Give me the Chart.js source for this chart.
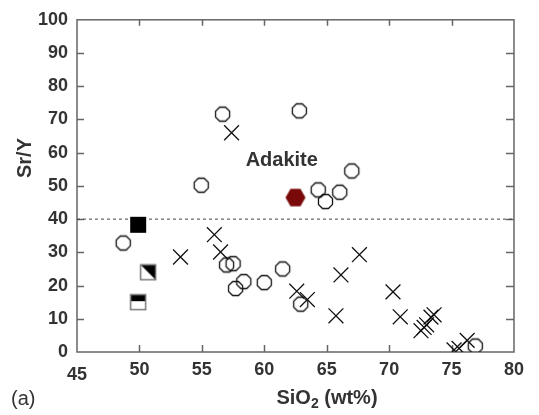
<!DOCTYPE html>
<html>
<head>
<meta charset="utf-8">
<script src="https://cdn.jsdelivr.net/npm/chart.js@4.4.1/dist/chart.umd.min.js"></script>
<style>
  html, body { margin: 0; padding: 0; background: #fff; }
  #wrap { width: 539px; height: 415px; }
</style>
</head>
<body>
<div id="wrap"><canvas id="srYChart" width="539" height="415"></canvas></div>
<script>
// open octagons
const circleSiO2 = [48.7, 54.95, 56.66, 56.98, 57.5, 57.7, 58.36, 60.0, 61.47, 62.81, 62.92, 64.32, 64.9, 66.04, 67.01, 76.9];
const circleSrY  = [32.8, 50.2, 71.6, 26.2, 26.6, 19.1, 21.2, 20.9, 25.0, 72.6, 14.4, 48.8, 45.3, 48.1, 54.5, 1.8];

// crosses
const crossSiO2 = [53.29, 56.0, 56.5, 57.38, 62.6, 63.45, 65.74, 66.14, 67.62, 70.31, 70.89, 72.55, 72.8, 73.0, 73.35, 73.6, 75.2, 75.6, 76.25];
const crossSrY  = [28.6, 35.3, 30.1, 66.0, 18.3, 15.8, 10.9, 23.2, 29.3, 18.1, 10.6, 6.4, 7.4, 8.2, 10.5, 11.2, 0.6, 1.1, 3.5];

// squares
const fullSquareSiO2 = [49.9];
const fullSquareSrY  = [38.3];
const diagSquareSiO2 = [50.7];
const diagSquareSrY  = [24.0];
const halfSquareSiO2 = [49.9];
const halfSquareSrY  = [15.0];

// red hexagon
const hexSiO2 = [62.5];
const hexSrY  = [46.5];

// adakite boundary (dotted)
const boundarySiO2 = [45, 80];
const boundarySrY  = [40, 40];

const xTicks = [45, 50, 55, 60, 65, 70, 75, 80];
const yTicks = [0, 10, 20, 30, 40, 50, 60, 70, 80, 90, 100];

const FONT = "'Liberation Sans', Arial, sans-serif";
const TEXT = "#333";
const AXIS = "#666";

function pts(xs, ys) {
    return xs.map((x, i) => ({ x: x, y: ys[i] }));
}

// marker canvases
function makeOctagon(r, lw) {
    const c = document.createElement("canvas");
    const s = Math.ceil(2 * r + lw + 2);
    c.width = s; c.height = s;
    const g = c.getContext("2d");
    g.strokeStyle = "#111";
    g.lineWidth = lw;
    g.beginPath();
    for (let k = 0; k < 8; k++) {
        const a = Math.PI / 8 + k * Math.PI / 4;
        const px = s / 2 + r * Math.cos(a), py = s / 2 + r * Math.sin(a);
        if (k === 0) g.moveTo(px, py); else g.lineTo(px, py);
    }
    g.closePath();
    g.stroke();
    return c;
}

function makeHexagon(r, color) {
    const c = document.createElement("canvas");
    const s = Math.ceil(2 * r + 2);
    c.width = s; c.height = s;
    const g = c.getContext("2d");
    g.fillStyle = color;
    g.beginPath();
    for (let k = 0; k < 6; k++) {
        const a = k * Math.PI / 3;
        const px = s / 2 + r * Math.cos(a), py = s / 2 + r * Math.sin(a);
        if (k === 0) g.moveTo(px, py); else g.lineTo(px, py);
    }
    g.closePath();
    g.fill();
    return c;
}

function makeSquare(kind) {
    const c = document.createElement("canvas");
    const s = 18;
    c.width = s; c.height = s;
    const g = c.getContext("2d");
    const a = 1.5, b = 16.5;
    if (kind === "full") {
        g.fillStyle = "#000";
        g.fillRect(a - 0.5, a - 0.5, b - a + 1, b - a + 1);
        return c;
    }
    g.fillStyle = "#fff";
    g.fillRect(a, a, b - a, b - a);
    g.fillStyle = "#000";
    if (kind === "diag") {
        g.beginPath();
        g.moveTo(a, a); g.lineTo(b, a); g.lineTo(b, b);
        g.closePath();
        g.fill();
    } else {
        g.fillRect(a, a, b - a, 6.5);
    }
    g.strokeStyle = "#777";
    g.lineWidth = 1.5;
    g.strokeRect(a, a, b - a, b - a);
    return c;
}

const octagon = makeOctagon(7.6, 1.3);
const hexagon = makeHexagon(10, "#7a0a0a");

// frame, inward ticks and texts
const framePlugin = {
    id: "framePlugin",
    beforeDatasetsDraw(chart) {
        const ctx = chart.ctx;
        const ca = chart.chartArea;
        const xs = chart.scales.x, ys = chart.scales.y;
        ctx.save();
        ctx.strokeStyle = AXIS;
        ctx.lineWidth = 1.5;
        ctx.strokeRect(ca.left, ca.top, ca.right - ca.left, ca.bottom - ca.top);
        ctx.beginPath();
        xTicks.slice(1, -1).forEach(v => {
            const px = Math.round(xs.getPixelForValue(v)) + 0.5;
            ctx.moveTo(px, ca.bottom); ctx.lineTo(px, ca.bottom - 7);
            ctx.moveTo(px, ca.top); ctx.lineTo(px, ca.top + 6);
        });
        yTicks.slice(1, -1).forEach(v => {
            const py = Math.round(ys.getPixelForValue(v)) + 0.5;
            ctx.moveTo(ca.left, py); ctx.lineTo(ca.left + 7, py);
            ctx.moveTo(ca.right, py); ctx.lineTo(ca.right - 8, py);
        });
        ctx.stroke();
        ctx.restore();
    },
    afterDraw(chart) {
        const ctx = chart.ctx;
        const xs = chart.scales.x, ys = chart.scales.y;
        ctx.save();
        ctx.fillStyle = TEXT;
        ctx.textBaseline = "middle";

        // Adakite field label
        ctx.font = "bold 20px " + FONT;
        ctx.textAlign = "center";
        ctx.fillText("Adakite", xs.getPixelForValue(61.4), ys.getPixelForValue(57.8));

        // y title
        ctx.save();
        ctx.translate(25, 158);
        ctx.rotate(-Math.PI / 2);
        ctx.font = "bold 20px " + FONT;
        ctx.textAlign = "center";
        ctx.fillText("Sr/Y", 0, 0);
        ctx.restore();

        // x title with subscript
        const big = "bold 20px " + FONT, small = "bold 14px " + FONT;
        ctx.font = big;
        const w1 = ctx.measureText("SiO").width;
        const w3 = ctx.measureText(" (wt%)").width;
        ctx.font = small;
        const w2 = ctx.measureText("2").width;
        let x0 = 327 - (w1 + w2 + w3) / 2;
        const y0 = 398;
        ctx.textAlign = "left";
        ctx.font = big;
        ctx.fillText("SiO", x0, y0);
        ctx.font = small;
        ctx.fillText("2", x0 + w1, y0 + 6);
        ctx.font = big;
        ctx.fillText(" (wt%)", x0 + w1 + w2, y0);

        // panel label
        ctx.font = "20px " + FONT;
        ctx.fillText("(a)", 11, 399);
        ctx.restore();
    }
};

const ctx = document.getElementById("srYChart").getContext("2d");
new Chart(ctx, {
    type: "scatter",
    data: {
        datasets: [
            {
                label: "hexagon",
                data: pts(hexSiO2, hexSrY),
                pointStyle: hexagon,
                order: 1
            },
            {
                label: "full square",
                data: pts(fullSquareSiO2, fullSquareSrY),
                pointStyle: makeSquare("full"),
                order: 2
            },
            {
                label: "diag square",
                data: pts(diagSquareSiO2, diagSquareSrY),
                pointStyle: makeSquare("diag"),
                order: 3
            },
            {
                label: "half square",
                data: pts(halfSquareSiO2, halfSquareSrY),
                pointStyle: makeSquare("half"),
                order: 4
            },
            {
                label: "crosses",
                data: pts(crossSiO2, crossSrY),
                pointStyle: "crossRot",
                pointRadius: 10.5,
                borderColor: "#111",
                borderWidth: 1.3,
                order: 5
            },
            {
                label: "circles",
                data: pts(circleSiO2, circleSrY),
                pointStyle: octagon,
                order: 6
            },
            {
                label: "boundary",
                type: "line",
                data: pts(boundarySiO2, boundarySrY),
                borderColor: "#444",
                borderWidth: 1,
                borderDash: [3, 3],
                pointRadius: 0,
                fill: false,
                order: 10
            }
        ]
    },
    options: {
        responsive: false,
        animation: false,
        devicePixelRatio: 1,
        layout: { padding: { top: 13, right: 20, left: 0, bottom: 0 } },
        plugins: {
            legend: { display: false },
            tooltip: { enabled: false }
        },
        scales: {
            x: {
                type: "linear",
                min: 45,
                max: 80,
                afterBuildTicks(scale) { scale.ticks = xTicks.map(v => ({ value: v })); },
                afterFit(scale) { scale.height = 63; },
                grid: { display: false, drawTicks: false },
                border: { display: false },
                ticks: {
                    padding: 15,
                    color: TEXT,
                    font: { family: FONT, size: 18, weight: "bold", lineHeight: 0.3 },
                    maxRotation: 0,
                    callback: v => v === 45 ? ["", "45"] : String(v)
                }
            },
            y: {
                type: "linear",
                min: 0,
                max: 100,
                afterBuildTicks(scale) { scale.ticks = yTicks.map(v => ({ value: v })); },
                afterFit(scale) { scale.width = 77; },
                grid: { display: false, drawTicks: false },
                border: { display: false },
                ticks: {
                    padding: 9,
                    color: TEXT,
                    font: { family: FONT, size: 18, weight: "bold" }
                }
            }
        }
    },
    plugins: [framePlugin]
});
</script>
</body>
</html>
